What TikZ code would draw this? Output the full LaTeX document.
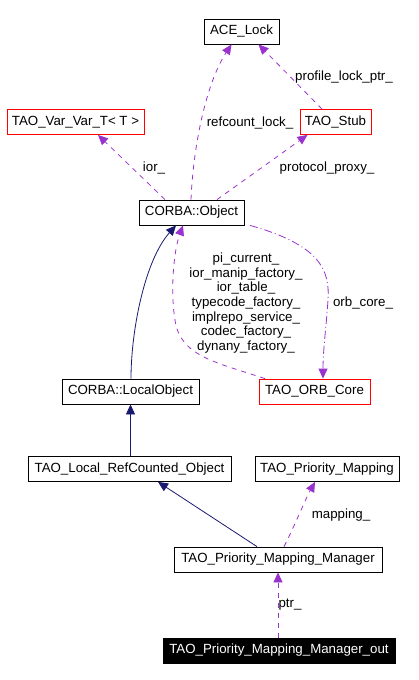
\documentclass[tikz,border=0pt]{standalone}
\usepackage{fontspec}
\setmainfont{Liberation Sans}
\usetikzlibrary{arrows.meta}
\definecolor{purp}{HTML}{9A32CD}
\definecolor{navy}{HTML}{191970}
\begin{document}
\begin{tikzpicture}[x=1pt,y=-1pt,
  every node/.style={font=\fontsize{13.3}{14.7}\selectfont},
  cls/.style={draw=black,line width=0.8pt,inner sep=0pt,minimum height=25},
  redcls/.style={cls,draw=red},
  usage/.style={purp,line width=0.8pt,dash pattern=on 5pt off 5pt,-{Triangle[length=10pt,width=9pt]}},
  inherit/.style={navy,line width=0.8pt,-{Triangle[length=10pt,width=9pt]}},
  lbl/.style={inner sep=0pt,align=center}]
\useasboundingbox (0,0) rectangle (419,680);
\node[cls,minimum width=75] (ace) at (241.5,31.5) {ACE\_Lock};
\node[redcls,minimum width=137] (var) at (75.5,122) {TAO\_Var\_Var\_T< T >};
\node[redcls,minimum width=71] (stub) at (335.5,122) {TAO\_Stub};
\node[cls,minimum width=105] (obj) at (191.5,212.5) {CORBA::Object};
\node[cls,minimum width=137] (local) at (130.5,391.5) {CORBA::LocalObject};
\node[redcls,minimum width=111] (orb) at (314.5,391.5) {TAO\_ORB\_Core};
\node[cls,minimum width=203] (lrc) at (129.5,469) {TAO\_Local\_RefCounted\_Object};
\node[cls,minimum width=144] (pm) at (327,469) {TAO\_Priority\_Mapping};
\node[cls,minimum width=208] (pmm) at (278,559.5) {TAO\_Priority\_Mapping\_Manager};
\node[cls,fill=black,text=white,minimum width=232] (out) at (279,650.5) {TAO\_Priority\_Mapping\_Manager\_out};

% usage edges
\draw[usage] ([xshift=-0.5]obj.north) .. controls (193,150) and (205,85) .. ([xshift=-10]ace.south);
\node[lbl] (l1) at (250,123) {refcount\_lock\_};
\draw[usage] ([xshift=-13.5]stub.north) -- ([xshift=17]ace.south);
\node[lbl] (l2) at (344,77) {profile\_lock\_ptr\_};
\draw[usage] ([xshift=-26.5]obj.north) -- ([xshift=22.5]var.south);
\node[lbl] (l3) at (154,168) {ior\_};
\draw[usage] ([xshift=25.5]obj.north) -- ([xshift=-28]stub.south);
\node[lbl] (l4) at (327,168) {protocol\_proxy\_};
\draw[usage] ([xshift=-49.5]orb.north) .. controls (215,362) and (180,356) .. (175,320) .. controls (170,290) and (174,250) .. ([xshift=-8.5]obj.south);
\node[lbl] (l5) at (246,303) {pi\_current\_\\ior\_manip\_factory\_\\ior\_table\_\\typecode\_factory\_\\implrepo\_service\_\\codec\_factory\_\\dynany\_factory\_};
\draw[usage,dash pattern=on 8pt off 3pt on 1pt off 3pt] ([xshift=58.5]obj.south) .. controls (320,245) and (330,270) .. (328,300) .. controls (326,330) and (323,350) .. ([xshift=8.5]orb.north);
\node[lbl] (l6) at (363,303) {orb\_core\_};
\draw[usage] ([xshift=6]pmm.north) .. controls (295,525) and (305,500) .. ([xshift=-12]pm.south);
\node[lbl] (l7) at (341,515) {mapping\_};
\draw[usage] (out.north -| pmm.south) -- (pmm.south);
\node[lbl] (l8) at (290,605) {ptr\_};

% inheritance edges
\draw[inherit] ([xshift=0.5]local.north) .. controls (131,330) and (145,260) .. ([xshift=-15.5]obj.south);
\draw[inherit] (lrc.north -| local.south) -- (local.south);
\draw[inherit] ([xshift=-21]pmm.north) -- ([xshift=28.5]lrc.south);
\end{tikzpicture}
\end{document}
